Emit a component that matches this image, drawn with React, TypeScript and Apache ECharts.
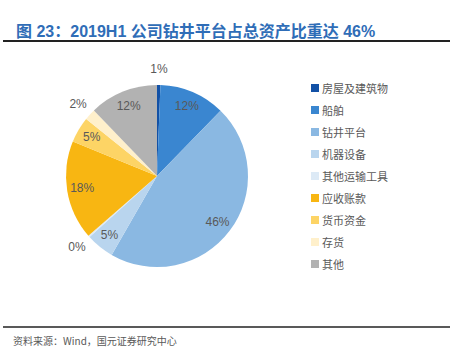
import React, { useEffect, useRef } from "react";
import * as echarts from "echarts";

const categories = ["房屋及建筑物", "船舶", "钻井平台", "机器设备", "其他运输工具", "应收账款", "货币资金", "存货", "其他"];
const values = [0.6, 11.7, 46.0, 5.0, 0.3, 17.6, 4.6, 2.0, 12.2];
const colors = ["#1251A6", "#3A86D0", "#8AB8E2", "#B9D5EE", "#DDEAF6", "#F8B612", "#FDD465", "#FFF0CB", "#B2B2B2"];
const outsideLabelIdx = [0, 4, 7];

const TITLE = "图 23：2019H1 公司钻井平台占总资产比重达 46%";
const SOURCE = "资料来源：Wind，国元证券研究中心";

const CENTER: [number, number] = [157, 176];
const R = 91;

export default function App() {
  const ref = useRef<HTMLDivElement>(null);
  useEffect(() => {
    if (!ref.current) return;
    const chart = echarts.init(ref.current, null, { renderer: "svg" });
    const labelStyle = {
      color: "#595959",
      fontSize: 12,
      fontFamily: "Liberation Sans, Arial, sans-serif",
      formatter: (p: any) => Math.round(p.value) + "%",
    };
    const mainData = categories.map((name, i) => ({
      name,
      value: values[i],
      itemStyle: { color: colors[i] },
    }));
    const overlayData = (outer: boolean) =>
      categories.map((name, i) => ({
        name,
        value: values[i],
        itemStyle: { color: "rgba(0,0,0,0)" },
        label: { show: outsideLabelIdx.includes(i) === outer },
      }));
    const overlayBase = {
      type: "pie",
      center: CENTER,
      startAngle: 90,
      clockwise: true,
      silent: true,
      legendHoverLink: false,
      emphasis: { disabled: true },
      labelLine: { show: false },
    };
    chart.setOption({
      animation: false,
      title: {
        text: TITLE,
        left: 11,
        top: 18,
        textStyle: {
          color: "#2F6DB7",
          fontSize: 16,
          fontWeight: "bold",
          fontFamily: "Liberation Sans, Noto Sans CJK SC, sans-serif",
        },
      },
      legend: {
        orient: "vertical",
        left: 306,
        top: 77,
        itemWidth: 8,
        itemHeight: 8,
        itemGap: 10,
        icon: "rect",
        data: categories,
        textStyle: {
          color: "#595959",
          fontSize: 11,
          lineHeight: 12,
          fontFamily: "Noto Sans CJK SC, sans-serif",
          padding: [0, 0, 0, -2],
        },
      },
      graphic: [
        { type: "line", shape: { x1: 3, y1: 41, x2: 450, y2: 41 }, style: { stroke: "#222", lineWidth: 2 } },
        { type: "line", shape: { x1: 3, y1: 327, x2: 450, y2: 327 }, style: { stroke: "#222", lineWidth: 1.5 } },
        {
          type: "text",
          left: 13,
          top: 335,
          style: {
            text: SOURCE,
            fill: "#595959",
            fontSize: 10,
            fontFamily: "Noto Sans CJK SC, sans-serif",
          },
        },
      ],
      series: [
        {
          type: "pie",
          center: CENTER,
          radius: R,
          startAngle: 90,
          clockwise: true,
          label: { show: false },
          labelLine: { show: false },
          emphasis: { disabled: true },
          data: mainData,
        },
        {
          ...overlayBase,
          radius: R * 1.6,
          label: { ...labelStyle, position: "inside" },
          data: overlayData(false),
        },
        {
          ...overlayBase,
          radius: 2 * (R + 13),
          label: { ...labelStyle, position: "inside" },
          data: overlayData(true),
        },
      ],
    });
    return () => chart.dispose();
  }, []);
  return (
    <div
      ref={ref}
      style={{ position: "fixed", left: 0, top: 0, width: 450, height: 353, background: "#fff" }}
    />
  );
}
